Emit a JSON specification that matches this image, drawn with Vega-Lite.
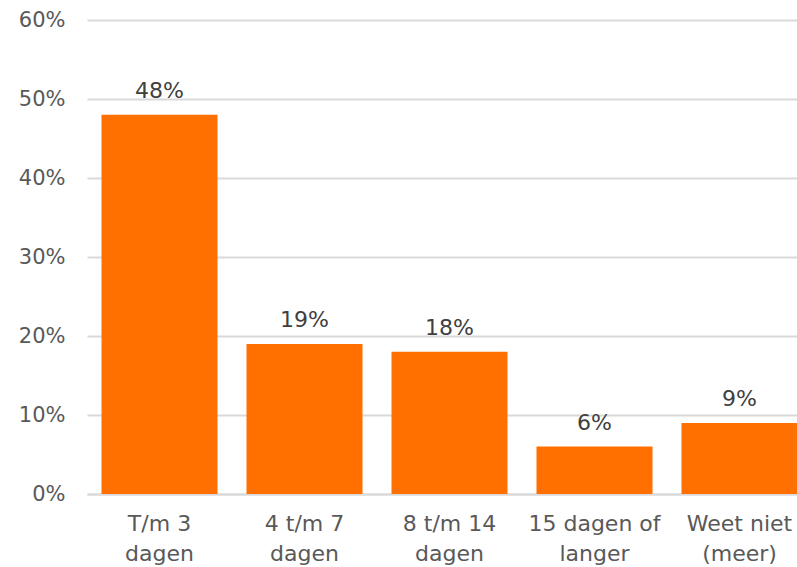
{
  "$schema": "https://vega.github.io/schema/vega-lite/v6.json",
  "width": 710,
  "height": 474,
  "autosize": {"type": "none"},
  "padding": {"left": 87, "top": 20, "right": 0, "bottom": 73},
  "background": "white",
  "config": {
    "view": {"stroke": null},
    "font": "DejaVu Sans",
    "axis": {"labelFont": "DejaVu Sans", "labelColor": "#595959", "labelFontSize": 21}
  },
  "data": {
    "values": [
      {"cat": "T/m 3|dagen", "value": 0.48},
      {"cat": "4 t/m 7|dagen", "value": 0.19},
      {"cat": "8 t/m 14|dagen", "value": 0.18},
      {"cat": "15 dagen of|langer", "value": 0.06},
      {"cat": "Weet niet|(meer)", "value": 0.09}
    ]
  },
  "encoding": {
    "x": {
      "field": "cat", "type": "nominal", "sort": null,
      "scale": {"range": [0, 725], "paddingInner": 0.2, "paddingOuter": 0.1},
      "axis": {
        "title": null, "labelAngle": 0, "ticks": false,
        "domainColor": "#d9d9d9", "domainWidth": 2,
        "labelPadding": 19, "labelLineHeight": 30, "labelFontSize": 22,
        "labelExpr": "split(datum.label, '|')"
      }
    },
    "y": {
      "field": "value", "type": "quantitative",
      "scale": {"domain": [0, 0.6]},
      "axis": {
        "title": null, "format": ".0%", "values": [0, 0.1, 0.2, 0.3, 0.4, 0.5, 0.6],
        "labelOverlap": false,
        "ticks": false, "domain": false, "gridColor": "#d9d9d9", "gridWidth": 2,
        "labelPadding": 22
      }
    }
  },
  "layer": [
    {"mark": {"type": "bar", "color": "#FF7000"}},
    {
      "mark": {"type": "text", "baseline": "bottom", "dy": -12, "fontSize": 22, "color": "#404040"},
      "encoding": {"text": {"field": "value", "type": "quantitative", "format": ".0%"}}
    }
  ]
}
